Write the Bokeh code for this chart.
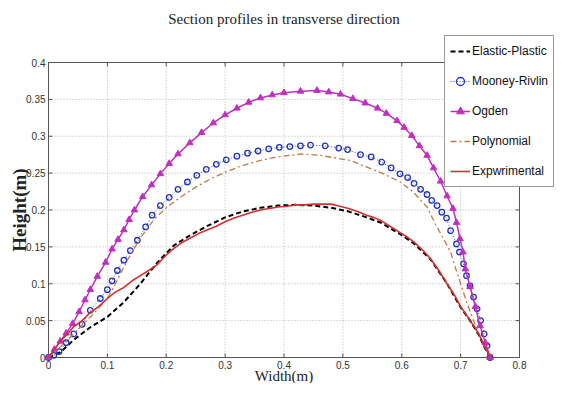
import math
from bokeh.plotting import figure
from bokeh.models import Range1d, Legend, LegendItem
from bokeh.core.properties import value
from bokeh.embed import file_html
from bokeh.resources import INLINE

# ---- data ----
ep_x = [0.0, 0.02, 0.043, 0.071, 0.1, 0.128, 0.156, 0.185, 0.213, 0.241, 0.269, 0.3, 0.33,
        0.36, 0.39, 0.42, 0.45, 0.48, 0.51, 0.54, 0.564, 0.598, 0.62, 0.649, 0.677, 0.7,
        0.716, 0.73, 0.74, 0.75]
ep_y = [0.0, 0.007, 0.024, 0.041, 0.055, 0.075, 0.1, 0.129, 0.152, 0.166, 0.178, 0.19, 0.198,
        0.203, 0.206, 0.207, 0.206, 0.203, 0.198, 0.19, 0.183, 0.167, 0.155, 0.133, 0.1, 0.068,
        0.05, 0.032, 0.015, 0.0]

mr_x = [0.0, 0.009, 0.018, 0.03, 0.043, 0.057, 0.071, 0.088, 0.1, 0.108, 0.117, 0.128, 0.139,
        0.151, 0.165, 0.176, 0.19, 0.205, 0.22, 0.236, 0.252, 0.268, 0.285, 0.302, 0.32, 0.338,
        0.356, 0.374, 0.392, 0.41, 0.428, 0.445, 0.47, 0.493, 0.508, 0.53, 0.548, 0.566, 0.582,
        0.597, 0.61, 0.621, 0.632, 0.643, 0.651, 0.66, 0.668, 0.676, 0.683, 0.693, 0.698, 0.705,
        0.71, 0.716, 0.722, 0.728, 0.734, 0.74, 0.745, 0.75]
mr_y = [0.0, 0.003, 0.008, 0.02, 0.032, 0.045, 0.064, 0.08, 0.092, 0.104, 0.118, 0.132, 0.145,
        0.159, 0.177, 0.193, 0.206, 0.217, 0.228, 0.238, 0.247, 0.255, 0.262, 0.268, 0.273,
        0.277, 0.28, 0.283, 0.285, 0.286, 0.287, 0.288, 0.287, 0.284, 0.282, 0.275, 0.272,
        0.265, 0.257, 0.249, 0.244, 0.236, 0.228, 0.221, 0.213, 0.206, 0.197, 0.189, 0.172,
        0.154, 0.143, 0.127, 0.111, 0.097, 0.082, 0.066, 0.05, 0.032, 0.016, 0.0]

og_x = [0.0, 0.01, 0.02, 0.03, 0.041, 0.052, 0.062, 0.071, 0.083, 0.097, 0.108, 0.118, 0.128,
        0.137, 0.146, 0.16, 0.175, 0.19, 0.205, 0.22, 0.24, 0.26, 0.28, 0.3, 0.32, 0.34, 0.36,
        0.38, 0.4, 0.428, 0.456, 0.476, 0.496, 0.517, 0.538, 0.559, 0.574, 0.592, 0.604, 0.617,
        0.63, 0.643, 0.654, 0.666, 0.677, 0.687, 0.693, 0.699, 0.704, 0.708, 0.716, 0.725,
        0.733, 0.742, 0.75]
og_y = [0.0, 0.011, 0.022, 0.033, 0.046, 0.062, 0.078, 0.092, 0.11, 0.129, 0.147, 0.16, 0.173,
        0.187, 0.2, 0.218, 0.234, 0.249, 0.263, 0.276, 0.291, 0.305, 0.318, 0.329, 0.338,
        0.346, 0.352, 0.356, 0.359, 0.361, 0.362, 0.36, 0.357, 0.351, 0.345, 0.338, 0.331,
        0.321, 0.312, 0.301, 0.287, 0.274, 0.257, 0.239, 0.219, 0.202, 0.183, 0.161, 0.143,
        0.12, 0.096, 0.069, 0.043, 0.02, 0.0]

po_x = [0.0, 0.025, 0.05, 0.075, 0.1, 0.111, 0.134, 0.156, 0.179, 0.2, 0.225, 0.25, 0.275, 0.3,
        0.325, 0.35, 0.375, 0.4, 0.43, 0.462, 0.484, 0.513, 0.541, 0.569, 0.598, 0.62, 0.643,
        0.657, 0.671, 0.683, 0.691, 0.7, 0.711, 0.722, 0.733, 0.742, 0.75]
po_y = [0.0, 0.018, 0.038, 0.058, 0.08, 0.096, 0.132, 0.162, 0.187, 0.203, 0.218, 0.231, 0.242,
        0.251, 0.259, 0.265, 0.27, 0.273, 0.276, 0.274, 0.271, 0.267, 0.258, 0.249, 0.238,
        0.224, 0.204, 0.181, 0.161, 0.143, 0.122, 0.1, 0.073, 0.05, 0.028, 0.013, 0.0]

ex_x = [0.0, 0.01, 0.02, 0.03, 0.043, 0.057, 0.071, 0.085, 0.1, 0.114, 0.128, 0.142, 0.156,
        0.17, 0.185, 0.2, 0.213, 0.227, 0.241, 0.255, 0.269, 0.285, 0.3, 0.315, 0.33, 0.345,
        0.36, 0.375, 0.39, 0.405, 0.42, 0.435, 0.45, 0.465, 0.48, 0.495, 0.51, 0.525, 0.54,
        0.552, 0.564, 0.58, 0.598, 0.61, 0.62, 0.635, 0.649, 0.663, 0.677, 0.69, 0.7, 0.708,
        0.716, 0.723, 0.73, 0.74, 0.75]
ex_y = [0.0, 0.011, 0.022, 0.03, 0.042, 0.05, 0.061, 0.069, 0.08, 0.089, 0.095, 0.104, 0.111,
        0.118, 0.126, 0.139, 0.148, 0.156, 0.162, 0.168, 0.173, 0.178, 0.184, 0.189, 0.193,
        0.197, 0.2, 0.202, 0.204, 0.205, 0.207, 0.207, 0.208, 0.208, 0.208, 0.205, 0.202,
        0.198, 0.193, 0.19, 0.186, 0.178, 0.169, 0.163, 0.157, 0.146, 0.134, 0.118, 0.1,
        0.084, 0.069, 0.06, 0.05, 0.042, 0.033, 0.017, 0.0]

x_ticks = [0.0, 0.1, 0.2, 0.3, 0.4, 0.5, 0.6, 0.7, 0.8]
x_tick_labels = ["0", "0.1", "0.2", "0.3", "0.4", "0.5", "0.6", "0.7", "0.8"]
y_ticks = [0.0, 0.05, 0.1, 0.15, 0.2, 0.25, 0.3, 0.35, 0.4]
y_tick_labels = ["0", "0.05", "0.1", "0.15", "0.2", "0.25", "0.3", "0.35", "0.4"]

series_names = ["Elastic-Plastic", "Mooney-Rivlin", "Ogden", "Polynomial", "Expwrimental"]
title_text = "Section profiles in transverse direction"
x_title = "Width(m)"
y_title = "Height(m)"

# ---- layout geometry (pixels inside the figure) ----
W, H = 558, 383
BOX_L, BOX_R, BOX_T, BOX_B = 48, 519, 62, 357     # the axes box
x0, x1 = x_ticks[0], x_ticks[-1]
y0, y1 = y_ticks[0], y_ticks[-1]
kx = (x1 - x0) / (BOX_R - BOX_L)
ky = (y1 - y0) / (BOX_B - BOX_T)
x_range = Range1d(x0 - BOX_L * kx, x1 + (W - BOX_R) * kx)
y_range = Range1d(y0 - (H - BOX_B) * ky, y1 + BOX_T * ky)

p = figure(width=W, height=H, output_backend="svg", toolbar_location=None,
           x_range=x_range, y_range=y_range,
           x_axis_location=None, y_axis_location=None,
           min_border_left=0, min_border_right=0, min_border_top=0, min_border_bottom=0)
p.outline_line_color = None
p.background_fill_color = "white"
p.border_fill_color = "white"
p.grid.visible = False

AXIS_COLOR = "#555555"
GRID_COLOR = "#b5b5b5"
inner_x = x_ticks[1:-1]
inner_y = y_ticks[1:-1]

# dotted grid inside the axes box
p.segment(x0=inner_x, y0=[y0] * len(inner_x), x1=inner_x, y1=[y1] * len(inner_x),
          line_color=GRID_COLOR, line_dash="1 2", line_width=1)
p.segment(x0=[x0] * len(inner_y), y0=inner_y, x1=[x1] * len(inner_y), y1=inner_y,
          line_color=GRID_COLOR, line_dash="1 2", line_width=1)

# axes box + inward ticks on all four sides
p.quad(left=[x0], right=[x1], bottom=[y0], top=[y1], fill_color=None,
       line_color=AXIS_COLOR, line_width=1)
p.ray(x=x_ticks, y=[y1] * len(x_ticks), length=4, length_units="screen", angle=-math.pi / 2,
      line_color=AXIS_COLOR)
p.ray(x=x_ticks, y=[y0] * len(x_ticks), length=4, length_units="screen", angle=math.pi / 2,
      line_color=AXIS_COLOR)
p.ray(x=[x1] * len(y_ticks), y=y_ticks, length=4, length_units="screen", angle=math.pi,
      line_color=AXIS_COLOR)
p.ray(x=[x0] * len(y_ticks), y=y_ticks, length=4, length_units="screen", angle=0,
      line_color=AXIS_COLOR)

# tick labels
p.text(x=x_ticks, y=[y0] * len(x_ticks), text=x_tick_labels, y_offset=3,
       text_align="center", text_baseline="top", text_font=value("Liberation Sans"),
       text_font_size="10px", text_color="#333333")
p.text(x=[x0] * len(y_ticks), y=y_ticks, text=y_tick_labels, x_offset=-3,
       text_align="right", text_baseline="middle", text_font=value("Liberation Sans"),
       text_font_size="10px", text_color="#333333")

# titles
xm = (x0 + x1) / 2
ym = (y0 + y1) / 2
p.text(x=[xm], y=[y1], text=[title_text], y_offset=-44, text_align="center",
       text_baseline="middle", text_font=value("Liberation Serif"), text_font_size="15px",
       text_color="#222222")
p.text(x=[xm], y=[y0], text=[x_title], y_offset=26, text_align="center",
       text_baseline="bottom", text_font=value("Liberation Serif"), text_font_size="15px",
       text_color="#222222")
p.text(x=[x0], y=[ym], text=[y_title], x_offset=-29, angle=math.pi / 2, text_align="center",
       text_baseline="middle", text_font=value("Liberation Serif"), text_font_size="19px",
       text_font_style="bold", text_color="#222222")

# ---- series ----
r_ep = p.line(ep_x, ep_y, line_color="black", line_width=2, line_dash="5 3")
r_mr_l = p.line(mr_x, mr_y, line_color="#3344cc", line_width=1, line_dash="1 2")
r_mr_m = p.scatter(mr_x, mr_y, marker="circle", size=5.5, line_color="#2233bb",
                   fill_color=None, line_width=1.3)
r_og_l = p.line(og_x, og_y, line_color="#c030c0", line_width=1.5)
r_og_m = p.scatter(og_x, og_y, marker="triangle", size=6.5, line_color="#c030c0",
                   fill_color="#c030c0")
r_po = p.line(po_x, po_y, line_color="#c07a45", line_width=1.3, line_dash="6 3 2 3")
r_ex = p.line(ex_x, ex_y, line_color="#d43030", line_width=1.6)

LEG_W, LEG_TOP, LEG_H = 113, 37, 150
legend = Legend(items=[
    LegendItem(label=series_names[0], renderers=[r_ep]),
    LegendItem(label=series_names[1], renderers=[r_mr_l, r_mr_m]),
    LegendItem(label=series_names[2], renderers=[r_og_l, r_og_m]),
    LegendItem(label=series_names[3], renderers=[r_po]),
    LegendItem(label=series_names[4], renderers=[r_ex]),
], location=(W - 1 - LEG_W, H - LEG_TOP - LEG_H))
legend.label_text_font = "Liberation Sans"
legend.label_text_font_size = "12px"
legend.label_text_color = "#111111"
legend.glyph_width = 20
legend.glyph_height = 20
legend.label_height = 20
legend.label_standoff = 2
legend.spacing = 10
legend.padding = 5
legend.margin = 0
legend.border_line_color = "#333333"
legend.border_line_width = 1
legend.background_fill_alpha = 1.0
p.add_layout(legend)

open("out.html", "w").write(file_html(p, INLINE))
